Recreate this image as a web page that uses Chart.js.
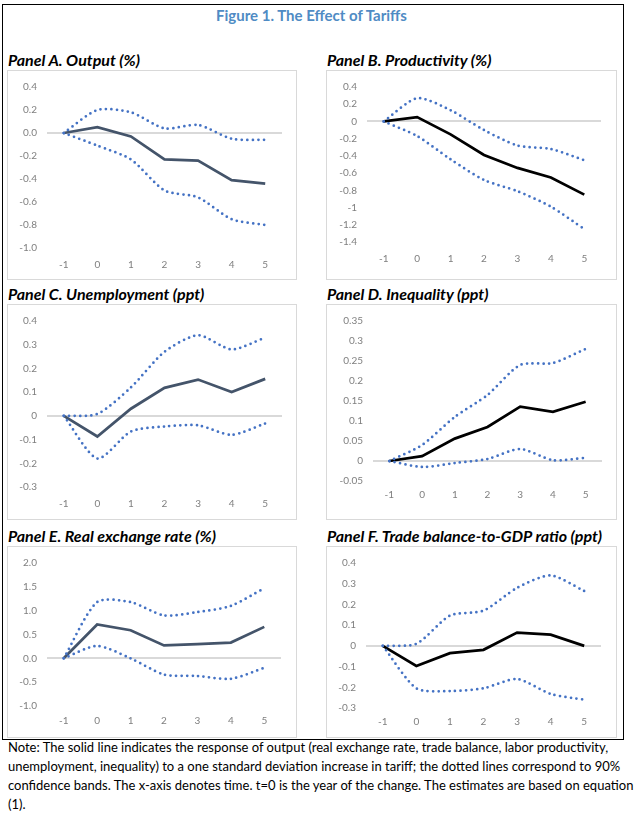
<!DOCTYPE html>
<html>
<head>
<meta charset="utf-8">
<script src="https://cdn.jsdelivr.net/npm/chart.js@4.4.1/dist/chart.umd.min.js"></script>
<style>
  body { margin: 0; background: #fff; font-family: Lato, 'Open Sans', sans-serif; }
  #page { position: relative; width: 641px; height: 827px; overflow: hidden; }
  .frame { position: absolute; left: 2px; top: 4px; width: 622px; height: 736px; border: 1.5px solid #000; box-sizing: border-box; }
  .fig-title { position: absolute; left: 0; top: 5px; width: 623px; text-align: center; font-weight: bold; font-size: 15px; line-height: 20px; color: #4f8bc4; }
  .panel-title { position: absolute; font-weight: bold; font-style: italic; font-size: 16px; color: #000; line-height: 18px; white-space: nowrap; }
  .box { position: absolute; border: 1px solid #d9d9d9; box-sizing: border-box; background: #fff; }
  .note { position: absolute; left: 8px; top: 738px; width: 630px; font-size: 13px; line-height: 19px; color: #000; white-space: nowrap; }
</style>
</head>
<body>
<div id="page">
  <div class="frame"></div>
  <div class="fig-title">Figure 1. The Effect of Tariffs</div>
  <div class="note">Note: The solid line indicates the response of output (real exchange rate, trade balance, labor productivity,<br>unemployment, inequality) to a one standard deviation increase in tariff; the dotted lines correspond to 90%<br>confidence bands. The x-axis denotes time. t=0 is the year of the change. The estimates are based on equation<br>(1).</div>
</div>
<script>
  // Data
  const years = ['-1', '0', '1', '2', '3', '4', '5'];

  const outputMid = [0, 0.05, -0.03, -0.23, -0.24, -0.41, -0.44];
  const outputHi  = [0, 0.20, 0.18, 0.04, 0.07, -0.05, -0.06];
  const outputLo  = [0, -0.11, -0.23, -0.50, -0.56, -0.75, -0.80];
  const outputTicks = ['0.4', '0.2', '0.0', '-0.2', '-0.4', '-0.6', '-0.8', '-1.0'];

  const prodMid = [0, 0.05, -0.15, -0.39, -0.54, -0.65, -0.85];
  const prodHi  = [0, 0.27, 0.13, -0.10, -0.28, -0.32, -0.45];
  const prodLo  = [0, -0.17, -0.44, -0.68, -0.81, -0.99, -1.25];
  const prodTicks = ['0.4', '0.2', '0', '-0.2', '-0.4', '-0.6', '-0.8', '-1', '-1.2', '-1.4'];

  const unempMid = [0, -0.087, 0.03, 0.118, 0.153, 0.10, 0.156];
  const unempHi  = [0, 0.008, 0.12, 0.27, 0.34, 0.28, 0.33];
  const unempLo  = [0, -0.18, -0.066, -0.045, -0.04, -0.08, -0.032];
  const unempTicks = ['0.4', '0.3', '0.2', '0.1', '0', '-0.1', '-0.2', '-0.3'];

  const ineqMid = [0, 0.012, 0.056, 0.085, 0.136, 0.123, 0.148];
  const ineqHi  = [0, 0.04, 0.11, 0.165, 0.24, 0.245, 0.28];
  const ineqLo  = [0, -0.015, -0.005, 0.005, 0.03, 0.002, 0.008];
  const ineqTicks = ['0.35', '0.3', '0.25', '0.2', '0.15', '0.1', '0.05', '0', '-0.05'];

  const rerMid = [0, 0.71, 0.59, 0.27, 0.30, 0.33, 0.66];
  const rerHi  = [0, 1.18, 1.18, 0.90, 0.97, 1.10, 1.47];
  const rerLo  = [0, 0.26, 0, -0.34, -0.37, -0.43, -0.20];
  const rerTicks = ['2.0', '1.5', '1.0', '0.5', '0.0', '-0.5', '-1.0'];

  const tradeMid = [0, -0.097, -0.035, -0.019, 0.064, 0.054, 0];
  const tradeHi  = [0, 0.01, 0.146, 0.17, 0.28, 0.34, 0.265];
  const tradeLo  = [0, -0.205, -0.218, -0.205, -0.16, -0.232, -0.26];
  const tradeTicks = ['0.4', '0.3', '0.2', '0.1', '0', '-0.1', '-0.2', '-0.3'];

  const SLATE = '#44546a';
  const BLACK = '#000000';
  const DOTS = '#4472c4';

  // box: left, top, width, height; pads inside the box
  const panels = [
    { title: 'Panel A. Output (%)', mid: outputMid, hi: outputHi, lo: outputLo, ticks: outputTicks, color: SLATE,
      box: [7, 70, 290, 210], padTop: 14, padRight: 14, yW: 39, xH: 31, xPad: 11 },
    { title: 'Panel B. Productivity (%)', mid: prodMid, hi: prodHi, lo: prodLo, ticks: prodTicks, color: BLACK,
      box: [326, 70, 291, 210], padTop: 14, padRight: 15, yW: 40, xH: 37, xPad: 11 },
    { title: 'Panel C. Unemployment (ppt)', mid: unempMid, hi: unempHi, lo: unempLo, ticks: unempTicks, color: SLATE,
      box: [7, 304, 290, 216], padTop: 14, padRight: 14, yW: 39, xH: 32, xPad: 11 },
    { title: 'Panel D. Inequality (ppt)', mid: ineqMid, hi: ineqHi, lo: ineqLo, ticks: ineqTicks, color: BLACK,
      box: [326, 304, 291, 216], padTop: 13, padRight: 14, yW: 46, xH: 38, xPad: 8 },
    { title: 'Panel E. Real exchange rate (%)', mid: rerMid, hi: rerHi, lo: rerLo, ticks: rerTicks, color: SLATE,
      box: [7, 546, 290, 192], padTop: 12, padRight: 15, yW: 39, xH: 31, xPad: 9 },
    { title: 'Panel F. Trade balance-to-GDP ratio (ppt)', mid: tradeMid, hi: tradeHi, lo: tradeLo, ticks: tradeTicks, color: BLACK,
      box: [326, 546, 291, 192], padTop: 13, padRight: 15, yW: 39, xH: 29, xPad: 8 }
  ];

  const page = document.getElementById('page');

  function dotted(values) {
    return {
      data: values,
      borderColor: DOTS,
      borderWidth: 2.75,
      borderDash: [0, 5.5],
      borderCapStyle: 'round',
      tension: 0.25,
      pointRadius: 0,
      fill: false
    };
  }

  panels.forEach(p => {
    const [left, top, w, h] = p.box;

    const t = document.createElement('div');
    t.className = 'panel-title';
    t.style.left = (left + 1) + 'px';
    t.style.top = (top - 19.5) + 'px';
    t.textContent = p.title;
    page.appendChild(t);

    const box = document.createElement('div');
    box.className = 'box';
    box.style.left = left + 'px';
    box.style.top = top + 'px';
    box.style.width = w + 'px';
    box.style.height = h + 'px';
    const canvas = document.createElement('canvas');
    box.appendChild(canvas);
    page.appendChild(box);

    const tickVals = p.ticks.map(s => parseFloat(s));

    new Chart(canvas, {
      type: 'line',
      data: {
        labels: years,
        datasets: [
          dotted(p.hi),
          dotted(p.lo),
          {
            data: p.mid,
            borderColor: p.color,
            borderWidth: 2.75,
            tension: 0,
            pointRadius: 0,
            fill: false
          }
        ]
      },
      options: {
        responsive: true,
        maintainAspectRatio: false,
        animation: false,
        layout: { padding: { top: p.padTop, right: p.padRight, left: 0, bottom: 0 } },
        plugins: { legend: { display: false }, tooltip: { enabled: false } },
        scales: {
          x: {
            offset: true,
            grid: { display: false, drawTicks: false },
            border: { display: false },
            ticks: { color: '#7f7f7f', font: { family: 'Lato', size: 10 }, padding: p.xPad, maxRotation: 0 },
            afterFit: scale => { scale.height = p.xH; }
          },
          y: {
            min: Math.min(...tickVals),
            max: Math.max(...tickVals),
            grid: {
              drawTicks: false,
              lineWidth: 2,
              color: ctx => (ctx.tick && ctx.tick.value === 0) ? '#d9d9d9' : 'rgba(0,0,0,0)'
            },
            border: { display: false },
            afterBuildTicks: scale => {
              scale.ticks = tickVals.slice().sort((a, b) => a - b).map(v => ({ value: v }));
            },
            ticks: {
              color: '#7f7f7f',
              font: { family: 'Lato', size: 10 },
              padding: 10,
              callback: v => p.ticks[tickVals.findIndex(t => Math.abs(t - v) < 1e-9)]
            },
            afterFit: scale => { scale.width = p.yW; }
          }
        }
      }
    });
  });
</script>
</body>
</html>
